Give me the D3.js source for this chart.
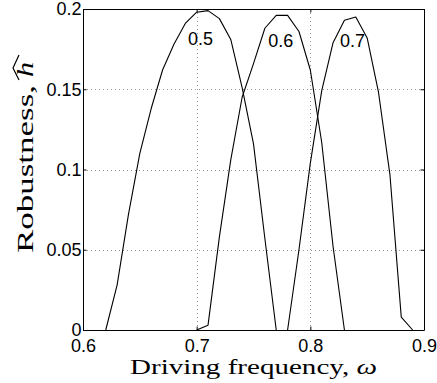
<!DOCTYPE html>
<html>
<head>
<meta charset="utf-8">
<script src="https://cdn.jsdelivr.net/npm/d3@7"></script>
<style>
body { margin: 0; background: #fff; }
svg { display: block; }
</style>
</head>
<body>
<svg id="chart" width="437" height="383"></svg>
<script>
// robustness curves, one per amplitude
const freq05 = [0.62, 0.63, 0.64, 0.65, 0.66, 0.67, 0.68, 0.69, 0.70, 0.71, 0.72, 0.73, 0.74, 0.75, 0.76, 0.77]
const rob05 = [0, 0.028, 0.072, 0.110, 0.138, 0.162, 0.178, 0.191, 0.198, 0.199, 0.194, 0.181, 0.151, 0.116, 0.057, 0]

const freq06 = [0.70, 0.71, 0.72, 0.73, 0.74, 0.75, 0.76, 0.77, 0.78, 0.79, 0.80, 0.81, 0.82, 0.83]
const rob06 = [0, 0.003, 0.058, 0.106, 0.145, 0.166, 0.188, 0.196, 0.196, 0.186, 0.162, 0.117, 0.052, 0]

const freq07 = [0.78, 0.79, 0.80, 0.81, 0.82, 0.83, 0.84, 0.85, 0.86, 0.87, 0.88, 0.89]
const rob07 = [0, 0.050, 0.104, 0.149, 0.179, 0.193, 0.195, 0.182, 0.148, 0.097, 0.008, 0]

const seriesNames = ["0.5", "0.6", "0.7"]
const xTicks = [0.6, 0.7, 0.8, 0.9]
const yTicks = [0, 0.05, 0.1, 0.15, 0.2]

const zip = (xs, ys) => xs.map((v, i) => [v, ys[i]])
const series = [zip(freq05, rob05), zip(freq06, rob06), zip(freq07, rob07)]

const margin = { top: 9, left: 83 },
    width = 341,
    height = 321

const svg = d3.select("#chart")
const plot = svg.append("g").attr("transform", `translate(${margin.left},${margin.top})`)

const x = d3.scaleLinear().domain([0.6, 0.9]).range([0, width])
const y = d3.scaleLinear().domain([0, 0.2]).range([height, 0])

// dotted grid
plot.append("g")
    .selectAll("line")
    .data(xTicks.slice(1, -1))
    .join("line")
    .attr("x1", d => Math.round(x(d)) + 0.5).attr("x2", d => Math.round(x(d)) + 0.5)
    .attr("y1", 0).attr("y2", height)
    .attr("stroke", "#999").attr("stroke-dasharray", "1,3")

plot.append("g")
    .selectAll("line")
    .data(yTicks.slice(1, -1))
    .join("line")
    .attr("y1", d => Math.round(y(d)) + 0.5).attr("y2", d => Math.round(y(d)) + 0.5)
    .attr("x1", 0).attr("x2", width)
    .attr("stroke", "#999").attr("stroke-dasharray", "1,3")

const tickFont = "Liberation Sans, Arial, sans-serif"

const styleAxis = function (g) {
    g.attr("font-family", tickFont).attr("font-size", 18).attr("color", "#000")
    g.selectAll("text").attr("fill", "#000")
}

plot.append("g")
    .attr("transform", `translate(0,${height})`)
    .call(d3.axisBottom(x).tickValues(xTicks).tickFormat(d3.format(".1f")).tickSize(-3.5).tickSizeOuter(0).tickPadding(9))
    .call(styleAxis)

plot.append("g")
    .call(d3.axisLeft(y).tickValues(yTicks).tickFormat(d => d === 0 ? "0" : String(d)).tickSize(-3.5).tickSizeOuter(0).tickPadding(1.5))
    .call(styleAxis)

plot.append("g")
    .call(d3.axisTop(x).tickValues(xTicks).tickFormat("").tickSize(-3.5).tickSizeOuter(0))
    .call(styleAxis)

plot.append("g")
    .attr("transform", `translate(${width},0)`)
    .call(d3.axisRight(y).tickValues(yTicks).tickFormat("").tickSize(-3.5).tickSizeOuter(0))
    .call(styleAxis)

// curves
const line = d3.line().x(d => x(d[0])).y(d => y(d[1]))

plot.append("g")
    .selectAll("path")
    .data(series)
    .join("path")
    .attr("d", line)
    .attr("fill", "none")
    .attr("stroke", "#000")
    .attr("stroke-width", 1.1)
    .attr("stroke-linejoin", "round")

// in-plot labels
const labelAt = [[0.6923, 0.1776], [0.7629, 0.1766], [0.826, 0.1763]]
plot.append("g")
    .selectAll("text")
    .data(seriesNames)
    .join("text")
    .attr("x", (d, i) => x(labelAt[i][0]))
    .attr("y", (d, i) => y(labelAt[i][1]))
    .attr("font-family", tickFont)
    .attr("font-size", 18)
    .text(d => d)

// axis titles
const serif = "Liberation Serif, Times New Roman, serif"

const xTitle = svg.append("text")
    .attr("x", 253.5)
    .attr("y", 374)
    .attr("text-anchor", "middle")
    .attr("font-family", serif)
    .attr("font-size", 22)
    .attr("textLength", 247)
    .attr("lengthAdjust", "spacingAndGlyphs")
xTitle.append("tspan").text("Driving frequency, ")
xTitle.append("tspan").attr("font-style", "italic").text("ω")

const yTitle = svg.append("g").attr("transform", "translate(33,0) rotate(-90)")
yTitle.append("text")
    .attr("x", -253)
    .attr("y", 0)
    .attr("font-family", serif)
    .attr("font-size", 23)
    .attr("textLength", 168)
    .attr("lengthAdjust", "spacingAndGlyphs")
    .text("Robustness,")
yTitle.append("text")
    .attr("x", -77)
    .attr("y", 0)
    .attr("font-family", serif)
    .attr("font-style", "italic")
    .attr("font-size", 23)
    .attr("textLength", 15)
    .attr("lengthAdjust", "spacingAndGlyphs")
    .text("h")
yTitle.append("path")
    .attr("d", "M-80,-14 L-68,-20 L-55,-14")
    .attr("fill", "none")
    .attr("stroke", "#000")
    .attr("stroke-width", 1.2)
</script>
</body>
</html>
